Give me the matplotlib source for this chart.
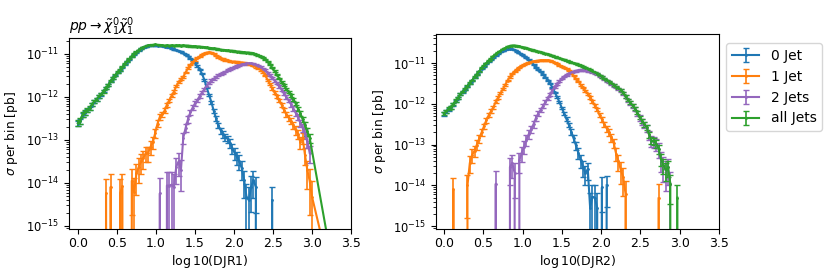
import matplotlib
matplotlib.use("Agg")
import matplotlib.pyplot as plt
import numpy as np

# log10(sigma per bin), one entry per 0.03 wide bin
# E = empty bin (drawn as 0), S = bin not stored
E = None
S = "skip"
BIN = 0.03

# --- DJR1 ---
djr1_zero_start = 0
djr1_zero = [
    -12.62, -12.56, -12.41, -12.37, -12.31, -12.26, -12.18, -12.11, -12.06, -11.99,
    -11.94, -11.87, -11.80, -11.73, -11.64, -11.56, -11.50, -11.43, -11.38, -11.31,
    -11.24, -11.18, -11.12, -11.06, -11.01, -10.96, -10.92, -10.88, -10.85, -10.83,
    -10.81, -10.80, -10.80, -10.80, -10.81, -10.80, -10.82, -10.83, -10.84, -10.85,
    -10.87, -10.89, -10.91, -10.93, -10.95, -10.98, -11.01, -11.05, -11.10, -11.15,
    -11.21, -11.28, -11.36, -11.46, -11.60, -11.78, -11.95, -12.12, -12.32, -12.50,
    -12.66, -12.78, -12.87, -12.93, -12.98, -13.08, -13.20, -13.31, -13.40, -13.50,
    -13.66, -13.93, -14.32, -14.40, -14.09, -13.93, -14.10, E, E, E,
    E, E, E, -14.40,
]
djr1_one_start = 11
djr1_one = [
    E, -14.24, E, -14.09, E, E, E, -14.24, -14.08,
    E, E, E, -13.95, -14.20, -13.78, -13.62, -13.50, -13.42, -13.30,
    -13.30, -13.16, -13.05, -12.84, -12.62, -12.46, -12.40, -12.32, -12.18, -12.08,
    -11.97, -11.88, -11.75, -11.66, -11.59, -11.53, -11.43, -11.33, -11.25, -11.19,
    -11.14, -11.09, -11.06, -11.02, -10.99, -10.97, -10.96, -10.97, -11.00, -11.04,
    -11.07, -11.10, -11.12, -11.14, -11.15, -11.17, -11.18, -11.18, -11.19, -11.20,
    -11.20, -11.21, -11.22, -11.23, -11.25, -11.27, -11.30, -11.33, -11.37, -11.42,
    -11.50, -11.60, -11.70, -11.80, -11.90, -11.98, -12.08, -12.18, -12.30, -12.40,
    -12.48, -12.56, -12.66, -12.77, -12.86, -13.05, -12.95, -13.35, -13.70, -13.95,
    -14.32, S, S, S, S, S, S, S, S, S, -16.6,
]
djr1_two_start = 34
djr1_two = [
    E, -14.24, E, E, -14.06, -14.06, -14.04, -14.10,
    -13.62, -13.50, -13.70, -12.95, -12.72, -12.52, -12.36, -12.25,
    -12.15, -12.08, -11.98, -11.90, -11.82, -11.74, -11.68, -11.62, -11.58, -11.54,
    -11.50, -11.47, -11.44, -11.41, -11.38, -11.35, -11.33, -11.30, -11.28, -11.26,
    -11.24, -11.23, -11.22, -11.22, -11.22, -11.23, -11.25, -11.27, -11.30, -11.34,
    -11.38, -11.44, -11.50, -11.56, -11.62, -11.68, -11.75, -11.83, -11.92, -12.00,
    -12.08, -12.17, -12.27, -12.37, -12.47, -12.60, -12.72, -12.85, -13.02, -13.30,
]
djr1_all_start = 0
djr1_all = [
    -12.61, -12.55, -12.40, -12.36, -12.30, -12.26, -12.17, -12.10, -12.06, -11.98,
    -11.93, -11.87, -11.79, -11.72, -11.63, -11.56, -11.49, -11.42, -11.37, -11.30,
    -11.23, -11.17, -11.11, -11.05, -11.00, -10.95, -10.91, -10.87, -10.84, -10.82,
    -10.80, -10.79, -10.79, -10.78, -10.79, -10.79, -10.80, -10.81, -10.80, -10.81,
    -10.80, -10.81, -10.80, -10.80, -10.81, -10.80, -10.81, -10.81, -10.82, -10.82,
    -10.82, -10.83, -10.83, -10.84, -10.84, -10.85, -10.86, -10.87, -10.87, -10.88,
    -10.89, -10.90, -10.91, -10.91, -10.92, -10.93, -10.93, -10.94, -10.95, -10.95,
    -10.96, -10.96, -10.97, -10.97, -10.98, -10.99, -11.01, -11.03, -11.05, -11.08,
    -11.12, -11.18, -11.24, -11.32, -11.40, -11.48, -11.57, -11.65, -11.73, -11.81,
    -11.88, -11.96, -12.05, -12.15, -12.27, -12.38, -12.52, -12.65, -12.80, -12.95,
    S, S, S, S, S, S, S, S, S, S, -16.3,
]

# --- DJR2 ---
djr2_zero_start = 0
djr2_zero = [
    -12.25, -12.19, -12.13, -12.09, -12.01, -11.93, -11.86, -11.77, -11.71, -11.65,
    -11.57, -11.50, -11.43, -11.35, -11.28, -11.21, -11.14, -11.08, -11.02, -10.96,
    -10.91, -10.86, -10.81, -10.77, -10.73, -10.70, -10.67, -10.65, -10.65, -10.66,
    -10.68, -10.71, -10.75, -10.79, -10.83, -10.87, -10.92, -10.97, -11.04, -11.10,
    -11.16, -11.21, -11.28, -11.35, -11.42, -11.50, -11.60, -11.72, -11.83, -11.96,
    -12.10, -12.24, -12.38, -12.52, -12.68, -12.85, -13.02, -13.20, -13.38, -13.55,
    -13.70, -13.60, -14.55, -14.28, -14.30, -14.55, E, -14.05, E, -14.00,
]
djr2_one_start = 3
djr2_one = [
    E, -14.10, E, E, E, E, E,
    -14.00, -13.45, -13.25, -13.15, -13.00, -12.85, -12.70, -12.55, -12.40, -12.28,
    -12.18, -12.08, -11.95, -11.84, -11.74, -11.64, -11.53, -11.43, -11.34, -11.26,
    -11.20, -11.15, -11.10, -11.07, -11.04, -11.01, -10.99, -10.97, -10.96, -10.95,
    -10.94, -10.93, -10.93, -10.93, -10.93, -10.94, -10.96, -10.99, -11.02, -11.05,
    -11.08, -11.11, -11.14, -11.18, -11.24, -11.31, -11.38, -11.45, -11.53, -11.60,
    -11.68, -11.75, -11.84, -11.94, -12.04, -12.14, -12.28, -12.38, -12.50, -12.60,
    -12.70, -12.82, -12.96, -13.22, -13.40, -13.62, -13.79, -14.20,
    E, E, E, E, E, E, E, E, E, E, E, E, E, -14.32,
]
djr2_two_start = 21
djr2_two = [
    E, -13.96, E, E, E, E, E,
    -13.55, -13.45, -13.70, E, -13.38, -13.20, -13.05, -12.88, -12.74, -12.62, -12.50, -12.35,
    -12.24, -12.15, -12.06, -11.96, -11.87, -11.77, -11.67, -11.58, -11.51, -11.45,
    -11.38, -11.33, -11.29, -11.26, -11.23, -11.21, -11.19, -11.18, -11.17, -11.17,
    -11.18, -11.19, -11.20, -11.22, -11.24, -11.27, -11.31, -11.35, -11.39, -11.43,
    -11.47, -11.51, -11.55, -11.59, -11.63, -11.67, -11.75, -11.83, -11.91, -11.98,
    -12.05, -12.13, -12.23, -12.34, -12.43, -12.51, -12.59, -12.76, -12.91, -12.93,
    -12.99, -13.11, -13.36, -13.51, -13.63, -13.56, -13.97,
]
djr2_all_start = 0
djr2_all = [
    -12.24, -12.18, -12.12, -12.08, -12.00, -11.92, -11.85, -11.76, -11.70, -11.64,
    -11.56, -11.49, -11.42, -11.34, -11.27, -11.20, -11.12, -11.06, -11.00, -10.94,
    -10.89, -10.83, -10.78, -10.74, -10.70, -10.66, -10.63, -10.60, -10.58, -10.57,
    -10.57, -10.58, -10.59, -10.61, -10.62, -10.63, -10.65, -10.67, -10.69, -10.70,
    -10.72, -10.73, -10.75, -10.77, -10.78, -10.80, -10.82, -10.84, -10.86, -10.88,
    -10.90, -10.92, -10.94, -10.96, -10.98, -11.00, -11.02, -11.04, -11.06, -11.09,
    -11.11, -11.14, -11.17, -11.20, -11.23, -11.26, -11.30, -11.34, -11.38, -11.42,
    -11.46, -11.50, -11.54, -11.58, -11.62, -11.66, -11.74, -11.82, -11.90, -11.97,
    -12.04, -12.12, -12.22, -12.33, -12.42, -12.50, -12.58, -12.75, -12.90, -12.92,
    -12.98, -13.10, -13.35, -13.50, -13.62, -13.55, -13.96, E, E, -14.30,
]

# weight of one event per sample, sets the statistical error bars
weights = {
    "djr1": [10**-14.35, 10**-14.1, 10**-14.05, 10**-14.2],
    "djr2": [10**-14.3, 10**-14.15, 10**-13.95, 10**-14.3],
}

labels = ["0 Jet", "1 Jet", "2 Jets", "all Jets"]
colors = ["tab:blue", "tab:orange", "tab:purple", "tab:green"]
decades = [1e-15, 1e-14, 1e-13, 1e-12, 1e-11]


def to_xy(vals, start, w):
    x, y = [], []
    for i, v in enumerate(vals):
        if isinstance(v, str):
            continue
        x.append((start + i) * BIN)
        y.append(0.0 if v is None else 10.0 ** v)
    x = np.array(x)
    y = np.array(y)
    return x, y, np.sqrt(y * w)


fig = plt.figure(figsize=(8.31, 2.78), dpi=100)
ax1 = fig.add_axes([0.0830, 0.1763, 0.3394, 0.6870])
ax2 = fig.add_axes([0.5247, 0.1763, 0.3406, 0.6996])

panels = [
    (ax1, "djr1", [(djr1_zero, djr1_zero_start), (djr1_one, djr1_one_start),
                   (djr1_two, djr1_two_start), (djr1_all, djr1_all_start)]),
    (ax2, "djr2", [(djr2_zero, djr2_zero_start), (djr2_one, djr2_one_start),
                   (djr2_two, djr2_two_start), (djr2_all, djr2_all_start)]),
]

for ax, key, series in panels:
    ax.set_yscale("log")
    for (vals, start), w, c, lab in zip(series, weights[key], colors, labels):
        x, y, err = to_xy(vals, start, w)
        ax.errorbar(x, y, yerr=err, color=c, label=lab, marker=".", ms=2,
                    lw=1.5, elinewidth=1.2, capsize=2)
    ax.set_ylabel(r"$\sigma$ per bin [pb]", fontsize=8.8)
    ax.set_xticks(np.arange(0, 3.51, 0.5))
    ax.set_yticks(decades)
    ax.tick_params(axis="y", labelsize=8.3)
    ax.tick_params(axis="x", labelsize=9, pad=2.5)

ax1.set_xlim(-0.115, 3.5)
ax1.set_ylim(10**-15.07, 10**-10.63)
ax1.set_xlabel(r"$\log10$(DJR1)", fontsize=9, labelpad=2)
ax1.set_title(r"$pp \rightarrow \tilde{\chi}_1^0\tilde{\chi}_1^0$", loc="left",
              fontsize=10, pad=5)

ax2.set_xlim(-0.10, 3.5)
ax2.set_ylim(10**-15.07, 10**-10.30)
ax2.set_xlabel(r"$\log10$(DJR2)", fontsize=9, labelpad=2)
ax2.legend(loc="upper left", bbox_to_anchor=(1.025, 0.956), borderaxespad=0)

fig.savefig("out.png", dpi=100)
